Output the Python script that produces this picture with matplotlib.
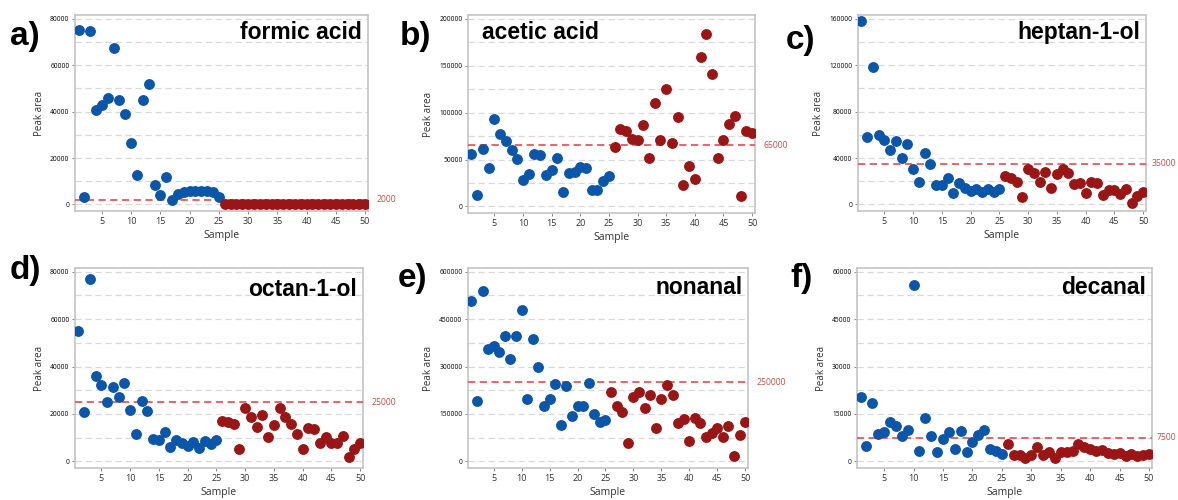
import os
import numpy as np
import matplotlib
matplotlib.use('Agg')
import matplotlib.pyplot as plt
import matplotlib.ticker as ticker
import matplotlib.font_manager as fm

# ── data ──
samples = np.arange(1, 51)

formic_acid = [75200, 3200, 74500, 40500, 42700, 46000, 67300, 44800, 38800, 26300,
               12900, 44800, 51800, 8400, 4000, 11700, 1900, 4600, 5300, 5600,
               5600, 6000, 5600, 5500, 3200] + [0] * 25

acetic_acid = [55400, 12100, 60900, 40500, 93400, 77500, 70200, 59900, 50500, 27700,
               34900, 56400, 54300, 33900, 38800, 51600, 15600, 35600, 36300, 41500,
               40500, 17600, 17600, 26600, 32200, 63300, 83000, 80300, 72000, 70900,
               86900, 51600, 110700, 70900, 125600, 67500, 95800, 22800, 43300, 29400,
               159500, 183700, 141200, 51600, 70900, 87500, 96500, 11400, 80600, 78500]

heptanol = [157700, 58500, 118500, 59700, 55300, 46800, 54700, 39800, 52400, 31000,
            19600, 44500, 35100, 16400, 16400, 23100, 10200, 18100, 14300, 11700,
            13700, 10800, 13200, 11100, 13700, 24600, 22500, 19600, 6100, 30400,
            26900, 19600, 28400, 14000, 26000, 30700, 26900, 17500, 18100, 10200,
            19000, 18100, 8500, 12300, 12300, 8800, 13200, 1500, 7300, 10800]

octanol = [54900, 20800, 76800, 35900, 32400, 25100, 31500, 27200, 33200, 21500,
           11400, 25600, 21100, 9600, 8900, 12500, 6100, 8900, 7600, 6500,
           8000, 5500, 8600, 7500, 8900, 17200, 16500, 15600, 5100, 22400,
           18900, 14400, 19400, 10300, 15500, 22400, 18600, 15600, 11400, 5100,
           14200, 13800, 7600, 10400, 7600, 7600, 10800, 1800, 5400, 7600]

nonanal = [506000, 190100, 539800, 356000, 366600, 345400, 396100, 323200, 396100, 477500,
           198600, 387700, 300000, 175400, 196500, 244000, 114100, 237700, 144700, 176400,
           176400, 247200, 148900, 125700, 131000, 220800, 176400, 157400, 57000, 204900,
           220800, 168000, 210200, 105600, 196500, 240800, 210200, 120400, 133100, 63400,
           138400, 122500, 77100, 90800, 105600, 77100, 110900, 15800, 83500, 123600]

decanal = [20400, 5000, 18400, 8600, 9200, 12600, 11100, 8000, 9800, 55700,
           3300, 13700, 8000, 3000, 7000, 9200, 3900, 9700, 3000, 6200,
           8300, 9800, 3900, 3300, 2200, 5400, 2000, 2000, 1200, 2000,
           4600, 2000, 2900, 1200, 3100, 3100, 3400, 5400, 4500, 3800,
           3300, 3500, 2500, 2300, 2700, 1800, 2200, 1600, 2000, 2400]

panel_letters = ['a)', 'b)', 'c)', 'd)', 'e)', 'f)']
compounds = ['formic acid', 'acetic acid', 'heptan-1-ol', 'octan-1-ol', 'nonanal', 'decanal']
series = [formic_acid, acetic_acid, heptanol, octanol, nonanal, decanal]
thresholds = [2000, 65000, 35000, 25000, 250000, 7500]
y_tops = [80000, 200000, 160000, 80000, 600000, 60000]

# ── bold Arial-like font: pick the regular-width Liberation Sans Bold file ──
bold_file = None
for f in fm.findSystemFonts():
    if os.path.basename(f) == 'LiberationSans-Bold.ttf':
        bold_file = f
        break
BOLD = fm.FontProperties(fname=bold_file) if bold_file else fm.FontProperties(
    family='DejaVu Sans', weight='bold')

# ── layout (pixels of the 1178x500 reference: left, top, right, bottom) ──
W, H = 1178, 500
BOXES = [(75, 15, 368, 211), (468, 15, 755, 213), (858, 15, 1146, 211),
         (75, 268, 363, 468), (468, 268, 748, 468), (857, 268, 1152, 468)]
LETTER_POS = [(10, 36), (400, 36), (786, 40), (10, 270), (398, 279), (790, 279)]
TITLE_LEFT = [False, True, False, False, False, False]
TITLE_Y = [0.91, 0.91, 0.91, 0.89, 0.905, 0.905]
THR_PAD = [6, 6, 4, 6, 6, 3]      # gap (points) between frame and threshold label

BLUE = '#0B56A8'
RED = '#9A1616'
THR_LINE = '#E8585A'
THR_TEXT = '#C0504D'
GRID = '#D9D9D9'
FRAME = '#C4C4C4'

fig = plt.figure(figsize=(W / 100, H / 100), dpi=100, facecolor='white')

for i in range(6):
    l, t, r, b = BOXES[i]
    ax = fig.add_axes([l / W, 1 - b / H, (r - l) / W, (b - t) / H])
    vals = np.asarray(series[i], dtype=float)
    top = y_tops[i]

    ax.plot(samples[:25], vals[:25], 'o', color=BLUE, ms=6.8, mec=BLUE, zorder=4)
    ax.plot(samples[25:], vals[25:], 'o', color=RED, ms=6.8, mec=RED, zorder=4)
    ax.axhline(thresholds[i], color=THR_LINE, ls=(0, (4, 2.5)), lw=1.3, zorder=3)
    ax.annotate(str(thresholds[i]), xy=(1, thresholds[i]),
                xycoords=('axes fraction', 'data'), xytext=(THR_PAD[i], 0),
                textcoords='offset points', ha='left', va='center',
                fontsize=6.2, color=THR_TEXT, family='Open Sans',
                annotation_clip=False)

    ax.set_xlim(0.4, 50.5)
    ax.set_ylim(-0.035 * top, 1.02 * top)
    ax.xaxis.set_major_locator(ticker.FixedLocator(range(5, 51, 5)))
    ax.yaxis.set_major_locator(ticker.MultipleLocator(top / 4))
    ax.yaxis.set_minor_locator(ticker.MultipleLocator(top / 8))
    ax.yaxis.set_major_formatter(ticker.FuncFormatter(lambda v, p: f'{v:.0f}'))

    ax.grid(axis='y', which='both', color=GRID, ls=(0, (5, 3)), lw=0.9, zorder=0)
    ax.set_axisbelow(True)
    ax.tick_params(axis='y', which='major', labelsize=4.8, length=2.5, width=0.6,
                   color='#777777', pad=1.5)
    ax.tick_params(axis='y', which='minor', length=0)
    ax.tick_params(axis='x', labelsize=6.5, length=2.5, width=0.6,
                   color='#777777', pad=1.5, labelcolor='#333333')
    for lab in ax.get_xticklabels() + ax.get_yticklabels():
        lab.set_family('Open Sans')
    for sp in ax.spines.values():
        sp.set_color(FRAME)
        sp.set_linewidth(1.2)

    ax.set_ylabel('Peak area', fontsize=7, family='Open Sans', color='#333333',
                  labelpad=4)
    ax.set_xlabel('Sample', fontsize=7.5, family='Open Sans', color='#333333',
                  labelpad=3)

    tp = BOLD.copy()
    tp.set_size(16.5)
    if TITLE_LEFT[i]:
        ax.text(0.05, TITLE_Y[i], compounds[i], transform=ax.transAxes, ha='left',
                va='center', fontproperties=tp)
    else:
        ax.text(0.98, TITLE_Y[i], compounds[i], transform=ax.transAxes, ha='right',
                va='center', fontproperties=tp)

    lp = BOLD.copy()
    lp.set_size(24)
    lx, ly = LETTER_POS[i]
    fig.text(lx / W, 1 - ly / H, panel_letters[i], ha='left', va='center',
             fontproperties=lp)

fig.savefig('out.png', dpi=100, facecolor='white')
